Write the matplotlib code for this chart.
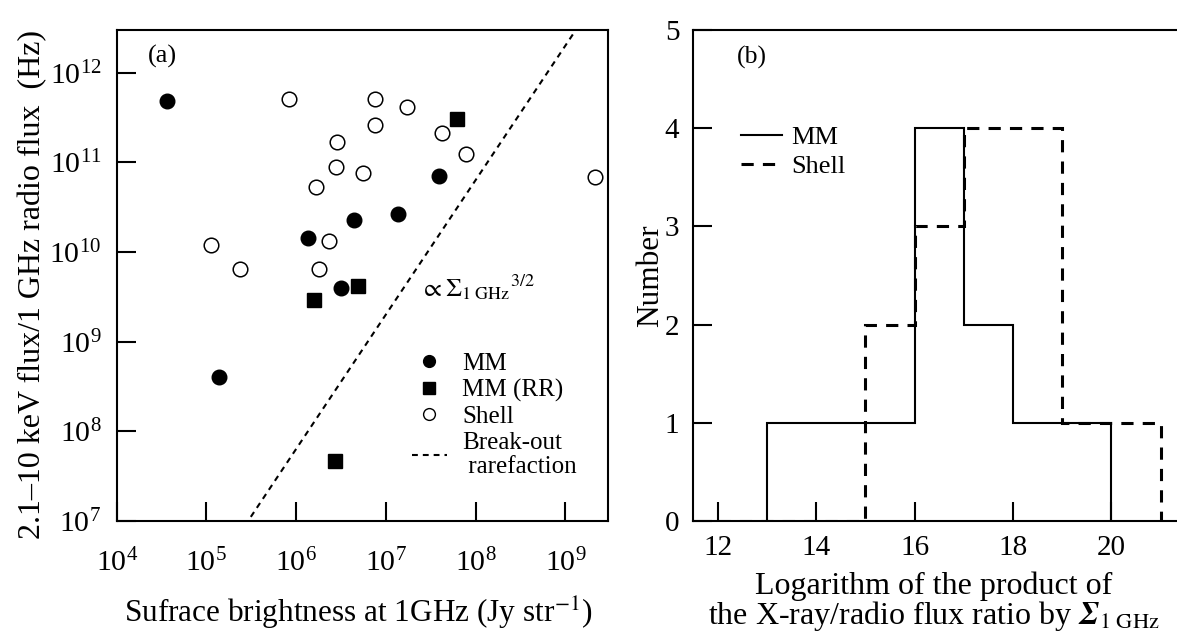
import numpy as np
import matplotlib
matplotlib.use("Agg")
import matplotlib.pyplot as plt
from matplotlib.lines import Line2D
from matplotlib.ticker import LogLocator, NullLocator, FixedLocator

plt.rcParams['font.family'] = ['Liberation Serif', 'DejaVu Serif']
plt.rcParams['mathtext.fontset'] = 'stix'

# (a) surface brightness at 1 GHz (Jy/str) vs X-ray / radio flux ratio (Hz)
mm_sb = [3.60e4, 3.87e7, 1.37e7, 4.40e6, 1.35e6, 3.18e6, 1.37e5]
mm_ratio = [4.85e11, 7.01e10, 2.68e10, 2.30e10, 1.45e10, 4.01e9, 4.02e8]

mmrr_sb = [6.25e7, 4.86e6, 1.58e6, 2.68e6]
mmrr_ratio = [3.08e11, 4.22e9, 2.92e9, 4.62e7]

shell_sb = [8.26e5, 1.12e5, 2.36e5, 7.46e6, 1.73e7, 7.46e6, 4.23e7, 2.84e6,
            7.89e7, 2.75e6, 5.53e6, 2.14e9, 1.65e6, 2.32e6, 1.79e6]
shell_ratio = [5.14e11, 1.21e10, 6.41e9, 5.14e11, 4.13e11, 2.63e11, 2.12e11, 1.67e11,
               1.24e11, 8.83e10, 7.57e10, 6.84e10, 5.30e10, 1.33e10, 6.41e9]

# break-out rarefaction: ratio = 1e7 at sb = 2.91e5, slope 3/2
bo_sb0 = 2.91e5
bo_ratio0 = 1e7
bo_slope = 1.5

# (b) histograms of log10(ratio * sigma_1GHz)
mm_edges = [13, 14, 15, 16, 17, 18, 19, 20]
mm_counts = [1, 1, 1, 4, 2, 1, 1]
shell_edges = [12, 13, 14, 15, 16, 17, 18, 19, 20, 21]
shell_counts = [0, 0, 0, 2, 3, 4, 4, 1, 1]

fig = plt.figure(figsize=(11.77, 6.33), dpi=100)
ax1 = fig.add_axes([0.0991, 0.1769, 0.4177, 0.7757])
ax2 = fig.add_axes([0.5890, 0.1769, 0.4180, 0.7757])

for ax in (ax1, ax2):
    for sp in ax.spines.values():
        sp.set_linewidth(1.5)
    ax.tick_params(direction='in', length=14, width=1.5, top=False, right=False)

# ---- panel (a)
ms = 10.5
ax1.plot(shell_sb, shell_ratio, 'o', ms=ms, mfc='white', mec='black', mew=1.1, ls='none')
ax1.plot(mm_sb, mm_ratio, 'o', ms=ms, color='black', ls='none')
ax1.plot(mmrr_sb, mmrr_ratio, 's', ms=ms, color='black', ls='none')

xs = np.logspace(4, 10, 200)
ax1.plot(xs, bo_ratio0 * (xs / bo_sb0) ** bo_slope, color='black', lw=1.5, dashes=(2.8, 2.4))

ax1.set_xscale('log')
ax1.set_yscale('log')
ax1.set_xlim(1e4, 3e9)
ax1.set_ylim(1e7, 3e12)
ax1.xaxis.set_major_locator(LogLocator(base=10, numticks=20))
ax1.yaxis.set_major_locator(LogLocator(base=10, numticks=20))
ax1.xaxis.set_minor_locator(NullLocator())
ax1.yaxis.set_minor_locator(NullLocator())
ax1.tick_params(axis='both', labelsize=21.5)
ax1.tick_params(axis='x', pad=20)
ax1.tick_params(axis='y', pad=11)

ax1.set_xlabel('Sufrace brightness at 1GHz (Jy str$^{-1}$)', fontsize=22.5)
ax1.xaxis.set_label_coords(0.491, -0.150)
ax1.set_ylabel('2.1\u201310 keV flux/1 GHz radio flux  (Hz)', fontsize=23)
ax1.yaxis.set_label_coords(-0.142, 0.482)

ax1.text(0.064, 0.947, '(a)', transform=ax1.transAxes, fontsize=19, va='center', ha='left')
ax1.text(0.617, 0.457, r'$\propto{\Sigma_{\rm 1\ GHz}}^{3/2}$', transform=ax1.transAxes,
         fontsize=18.5, va='baseline', ha='left')

handles = [
    Line2D([], [], marker='o', ls='none', color='black', ms=8.5),
    Line2D([], [], marker='s', ls='none', color='black', ms=8.5),
    Line2D([], [], marker='o', ls='none', mfc='white', mec='black', mew=1.0, ms=8.5),
    Line2D([], [], color='black', lw=1.5, dashes=(2.8, 2.4)),
]
labels = ['MM', 'MM (RR)', 'Shell', 'Break-out\n rarefaction']
leg1 = ax1.legend(handles, labels, loc='upper left', bbox_to_anchor=(0.600, 0.343),
                  frameon=False, fontsize=18, handlelength=1.4, handletextpad=0.62,
                  labelspacing=0.15, borderpad=0, borderaxespad=0)
leg1.get_texts()[3].set_linespacing(1.15)

# ---- panel (b)
ax2.stairs(mm_counts, mm_edges, color='black', lw=1.5, baseline=0, label='MM')
ax2.stairs(shell_counts, shell_edges, color='black', lw=2.2, baseline=0,
           ls=(0, (4, 3)), label='Shell')
ax2.set_xlim(11.5, 21.5)
ax2.set_ylim(0, 5)
ax2.xaxis.set_major_locator(FixedLocator([12, 14, 16, 18, 20]))
ax2.yaxis.set_major_locator(FixedLocator([0, 1, 2, 3, 4, 5]))
ax2.tick_params(axis='both', labelsize=21)
ax2.tick_params(axis='x', pad=10)
ax2.tick_params(axis='y', pad=10)

ax2.set_ylabel('Number', fontsize=22.5)
ax2.yaxis.set_label_coords(-0.058, 0.5)
ax2.set_xlabel('Logarithm of the product of\n'
               r'the X-ray/radio flux ratio by $\mathbfit{\Sigma}_{\rm 1\ GHz}$',
               fontsize=23, linespacing=0.95)
ax2.xaxis.set_label_coords(0.489, -0.102)
ax2.text(0.088, 0.945, '(b)', transform=ax2.transAxes, fontsize=18.5, va='center', ha='left')

leg_handles = [
    Line2D([], [], color='black', lw=1.5),
    Line2D([], [], color='black', lw=2.2, ls=(0, (4, 3))),
]
ax2.legend(leg_handles, ['MM', 'Shell'], loc='upper left', bbox_to_anchor=(0.098, 0.805),
           frameon=False, fontsize=19, handlelength=1.52, handletextpad=0.35,
           labelspacing=0.2, borderpad=0, borderaxespad=0)

fig.savefig('out.png', dpi=100)
